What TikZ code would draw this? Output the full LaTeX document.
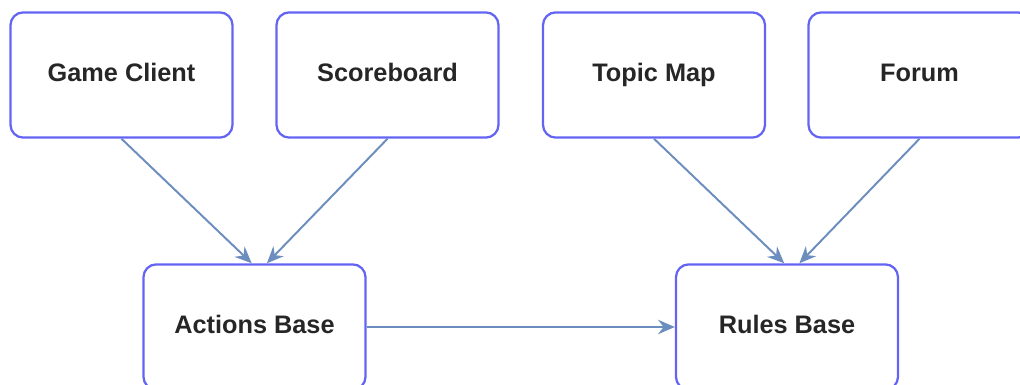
\documentclass[tikz,border=0pt]{standalone}
\usepackage{fontspec}
\setmainfont{Liberation Sans}
\usetikzlibrary{arrows.meta}
\definecolor{boxblue}{HTML}{6464F4}
\definecolor{linkblue}{HTML}{6C8EBF}

\begin{document}
\begin{tikzpicture}[>={Stealth[length=4.2mm,width=3.6mm,inset=1.4mm]},x=0.025cm,y=-0.025cm,every node/.style={draw=boxblue,line width=1.6pt,rectangle,rounded corners=3.2mm,minimum width=5.55cm,minimum height=3.13cm,align=center,text height=4.5mm,text depth=1.3mm,font=\fontsize{18}{20}\selectfont\bfseries,text=black!85}]
\clip (0,0) rectangle (1020,385);
\node (gc) at (121.5,75) {Game Client};
\node (sb) at (387.5,75) {Scoreboard};
\node (tm) at (654,75) {Topic Map};
\node (fo) at (919.5,75) {Forum};
\node (ab) at (254.5,327) {Actions Base};
\node (rb) at (787,327) {Rules Base};
\draw[->,linkblue,line width=1.4pt] (gc.south) to ([xshift=-0.07cm]ab.north);
\draw[->,linkblue,line width=1.4pt] (sb.south) to ([xshift=0.31cm]ab.north);
\draw[->,linkblue,line width=1.4pt] (tm.south) to ([xshift=-0.07cm]rb.north);
\draw[->,linkblue,line width=1.4pt] (fo.south) to ([xshift=0.31cm]rb.north);
\draw[->,linkblue,line width=1.4pt] (ab.east) to (rb.west);
\end{tikzpicture}
\end{document}
